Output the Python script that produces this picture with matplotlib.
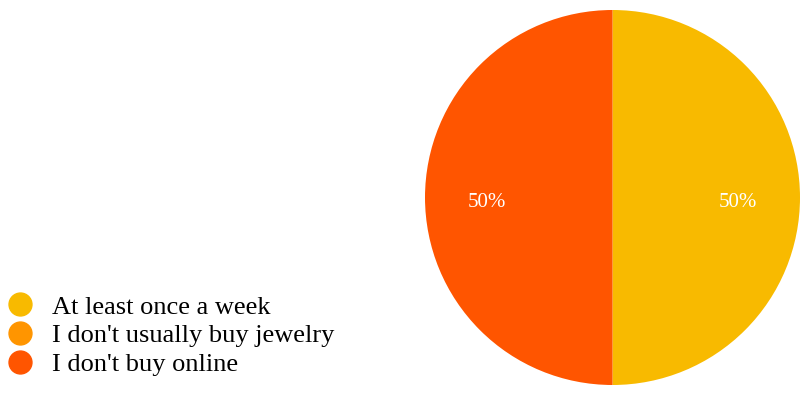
import matplotlib
matplotlib.use("Agg")
import matplotlib.pyplot as plt
from matplotlib.lines import Line2D

categories = ["At least once a week", "I don't usually buy jewelry", "I don't buy online"]
values = [1, 0, 1]
colors = ["#F8BA00", "#FF9500", "#FF5500"]

plt.rcParams["font.family"] = ["Liberation Serif", "DejaVu Serif"]

fig = plt.figure(figsize=(8.03, 3.94), dpi=100)
ax = fig.add_axes([425 / 803, 9 / 394, 375 / 803, 375 / 394])


def pct_label(p):
    return f"{p:.0f}%" if p > 0 else ""


wedges, texts, autotexts = ax.pie(
    values,
    colors=colors,
    startangle=90,
    counterclock=False,
    autopct=pct_label,
    pctdistance=0.67,
    wedgeprops=dict(linewidth=0),
    textprops=dict(color="white", fontsize=15),
)
# nudge percentage labels slightly below the horizontal centre line
for t in autotexts:
    x, y = t.get_position()
    t.set_position((x, y - 0.025))

ax.set_xlim(-1, 1)
ax.set_ylim(-1, 1)
ax.set_aspect("equal")

handles = [
    Line2D([0], [0], marker="o", linestyle="none", markersize=16.5,
           markerfacecolor=c, markeredgecolor=c)
    for c in colors
]
fig.legend(
    handles, categories,
    loc="lower left", bbox_to_anchor=(7 / 803, 18 / 394),
    frameon=False, fontsize=19,
    handletextpad=0.7, labelspacing=0.2, handlelength=1.0,
    borderaxespad=0, borderpad=0,
)

fig.savefig("out.png", dpi=100)
